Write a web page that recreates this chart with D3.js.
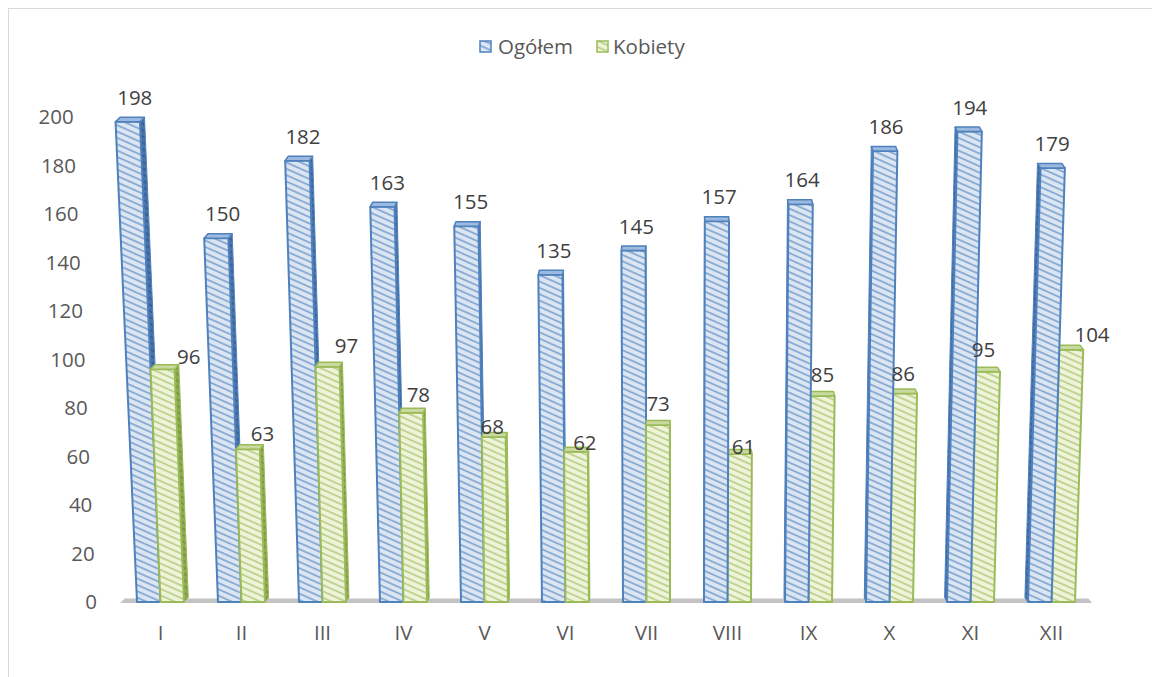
<!DOCTYPE html>
<html>
<head>
<meta charset="utf-8">
<script src="https://cdn.jsdelivr.net/npm/d3@7"></script>
<style>
  body { margin: 0; background: #fff; }
  text { font-family: "Open Sans", "DejaVu Sans", sans-serif; }
</style>
</head>
<body>
<svg id="chart" width="1152" height="677"></svg>
<script>
// ---- data ----
const categories = ["I", "II", "III", "IV", "V", "VI", "VII", "VIII", "IX", "X", "XI", "XII"];
const ogolem  = [198, 150, 182, 163, 155, 135, 145, 157, 164, 186, 194, 179];
const kobiety = [96, 63, 97, 78, 68, 62, 73, 61, 85, 86, 95, 104];
const yTicks = [0, 20, 40, 60, 80, 100, 120, 140, 160, 180, 200];
const seriesNames = ["Ogółem", "Kobiety"];

// ---- layout ----
const svg = d3.select("#chart");
const fontSize = 20.5;
const baseY = 602, topY = 117;
const y = d3.scaleLinear().domain([0, 200]).range([baseY, topY]);
const x = d3.scaleBand().domain(categories).range([120, 1092]);
const xs = d3.scaleBand().domain(seriesNames).range([-23.5, 23.5]);

// simple perspective: vertical edges converge toward a point far below the floor
const vpX = 678, vpDist = 12108, depthUp = 4.5;
const proj = (x0, yy) => vpX + (x0 - vpX) * (1 + (baseY - yy) / vpDist);
const sideShift = xc => (vpX - xc) * 0.0085;

const styles = {
  "Ogółem":  { stroke: "#4f81bd", bg: "#dce6f2", stripe: "#5b8ac4", sideBg: "#4a73a9", sideStripe: "#2d548a", top: "#9cb9df" },
  "Kobiety": { stroke: "#9bbb59", bg: "#eef3da", stripe: "#a3c164", sideBg: "#8dab50", sideStripe: "#6c8a34", top: "#c9da9f" }
};

// hatch patterns
const defs = svg.append("defs");
function hatch(id, bg, stripe) {
  const p = defs.append("pattern")
    .attr("id", id)
    .attr("patternUnits", "userSpaceOnUse")
    .attr("width", 8).attr("height", 5.8)
    .attr("patternTransform", "rotate(24)");
  p.append("rect").attr("width", 8).attr("height", 5.8).attr("fill", bg);
  p.append("line").attr("x1", 0).attr("x2", 8).attr("y1", 2.9).attr("y2", 2.9)
    .attr("stroke", stripe).attr("stroke-width", 1.2);
}
seriesNames.forEach((s, k) => {
  hatch("front" + k, styles[s].bg, styles[s].stripe);
  hatch("side" + k, styles[s].sideBg, styles[s].sideStripe);
});

// chart frame
svg.append("rect")
  .attr("x", 8.5).attr("y", 8.5).attr("width", 1170).attr("height", 700)
  .attr("fill", "none").attr("stroke", "#d9d9d9");

// floor
const fl = 120, fr = 1092;
svg.append("polygon")
  .attr("points", [
    [fl, baseY + 1], [fr, baseY + 1],
    [fr + sideShift(fr), baseY + 1 - depthUp], [fl + sideShift(fl), baseY + 1 - depthUp]
  ].map(p => p.join(",")).join(" "))
  .attr("fill", "#c3c3c3");

// y-axis tick labels (follow the perspective lean)
svg.append("g").selectAll("text").data(yTicks).join("text")
  .attr("x", d => proj(97, y(d)))
  .attr("y", d => y(d))
  .attr("dy", "0.35em")
  .attr("text-anchor", "end")
  .attr("font-size", fontSize)
  .attr("fill", "#595959")
  .text(d => d);

// category labels
svg.append("g").selectAll("text").data(categories).join("text")
  .attr("x", d => x(d) + x.bandwidth() / 2)
  .attr("y", 633)
  .attr("dy", "0.35em")
  .attr("text-anchor", "middle")
  .attr("font-size", fontSize)
  .attr("fill", "#595959")
  .text(d => d);

// bars
const bars = [];
categories.forEach((c, i) => {
  [ogolem, kobiety].forEach((vals, k) => {
    const s = seriesNames[k];
    const x0 = x(c) + x.bandwidth() / 2 + xs(s);
    const x1 = x0 + xs.bandwidth();
    bars.push({ i, k, s, v: vals[i], x0, x1, xc: (x0 + x1) / 2 });
  });
});
// draw the bars farthest from the vanishing line first
bars.sort((a, b) => Math.abs(b.xc - vpX) - Math.abs(a.xc - vpX));

const pts = arr => arr.map(p => p.join(",")).join(" ");
const gBars = svg.append("g");
bars.forEach(b => {
  const st = styles[b.s];
  const yt = y(b.v);
  const sh = sideShift(b.xc);
  const BL = [b.x0, baseY], BR = [b.x1, baseY];
  const TL = [proj(b.x0, yt), yt], TR = [proj(b.x1, yt), yt];
  const back = p => [p[0] + sh, p[1] - depthUp];
  const g = gBars.append("g");
  // side face
  const side = sh >= 0 ? [BR, TR, back(TR), back(BR)] : [BL, TL, back(TL), back(BL)];
  g.append("polygon").attr("points", pts(side))
    .attr("fill", `url(#side${b.k})`).attr("stroke", st.stroke).attr("stroke-width", 1)
    .attr("stroke-linejoin", "round");
  // front face
  g.append("polygon").attr("points", pts([BL, BR, TR, TL]))
    .attr("fill", `url(#front${b.k})`).attr("stroke", st.stroke).attr("stroke-width", 2)
    .attr("stroke-linejoin", "round");
  // top face
  g.append("polygon").attr("points", pts([TL, TR, back(TR), back(TL)]))
    .attr("fill", st.top).attr("stroke", st.stroke).attr("stroke-width", 1.5)
    .attr("stroke-linejoin", "round");
  b.yt = yt; b.sh = sh;
});

// value labels
const ogolemLabelShift = { dx: 2.5, dy: -24 };
const kobietyLabelDx = [22, 11, 16, 5, -3, 8, 0, 4, 1, 0, -2, 24];
const kobietyLabelDy = [-12, -15, -21, -18, -10, -9, -21, -7, -21, -20, -22, -15];
const gLab = svg.append("g");
bars.forEach(b => {
  const cx = proj(b.xc, b.yt) + b.sh;
  const dx = b.k === 0 ? ogolemLabelShift.dx : kobietyLabelDx[b.i];
  const dy = b.k === 0 ? ogolemLabelShift.dy : kobietyLabelDy[b.i];
  gLab.append("text")
    .attr("x", cx + dx)
    .attr("y", b.yt + dy)
    .attr("dy", "0.35em")
    .attr("text-anchor", "middle")
    .attr("font-size", fontSize)
    .attr("fill", "#404040")
    .text(b.v);
});

// legend
const legendItems = [
  { name: seriesNames[0], k: 0, sx: 480, tx: 498 },
  { name: seriesNames[1], k: 1, sx: 597, tx: 613 }
];
const gLeg = svg.append("g");
legendItems.forEach(it => {
  gLeg.append("rect")
    .attr("x", it.sx).attr("y", 41).attr("width", 11).attr("height", 11)
    .attr("fill", `url(#front${it.k})`)
    .attr("stroke", styles[it.name].stroke).attr("stroke-width", 1.5);
  gLeg.append("text")
    .attr("x", it.tx).attr("y", 46.5).attr("dy", "0.35em")
    .attr("font-size", fontSize).attr("fill", "#595959")
    .text(it.name);
});
</script>
</body>
</html>
